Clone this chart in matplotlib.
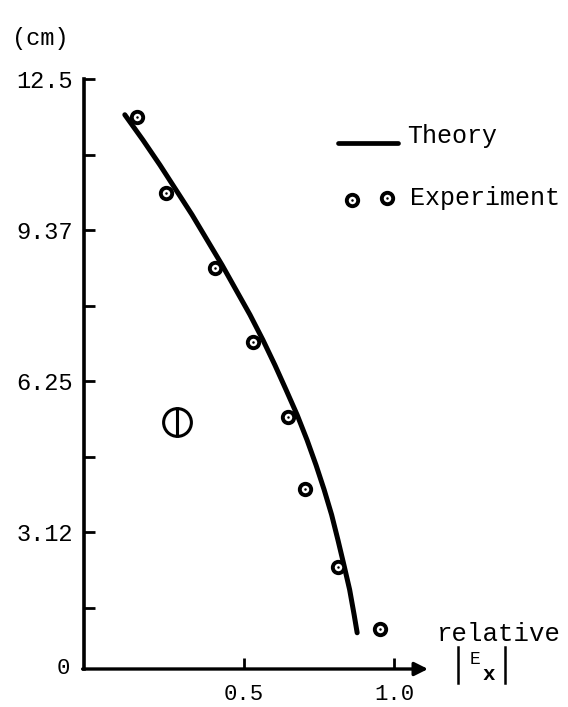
import matplotlib
matplotlib.use("Agg")
import matplotlib.pyplot as plt
from matplotlib.lines import Line2D

# ---- data ----
theory_x = [0.103, 0.163, 0.220, 0.273, 0.327, 0.377, 0.427, 0.473, 0.520, 0.563,
            0.603, 0.640, 0.677, 0.710, 0.740, 0.767, 0.792, 0.813, 0.833, 0.852,
            0.867, 0.877]
theory_y = [11.76, 11.24, 10.72, 10.21, 9.69, 9.17, 8.65, 8.14, 7.62, 7.10,
            6.58, 6.07, 5.55, 5.03, 4.51, 4.00, 3.48, 2.96, 2.44, 1.93,
            1.41, 1.04]
exp_x = [0.143, 0.240, 0.403, 0.530, 0.647, 0.703, 0.813, 0.953]
exp_y = [11.72, 10.14, 8.59, 7.06, 5.51, 4.02, 2.40, 1.12]
ytick_vals = [3.125, 6.25, 9.375, 12.5]
ytick_labels = ["3.12", "6.25", "9.37", "12.5"]
yminor_vals = [1.5625, 4.6875, 7.8125, 10.9375]
xtick_vals = [0.5, 1.0]
xtick_labels = ["0.5", "1.0"]
case_label_pos = (0.277, 5.40)

W, H = 568, 707
FONT = "Liberation Mono"

def fx(px):
    return px / W

def fy(py):
    return 1 - py / H

fig = plt.figure(figsize=(W / 100, H / 100), dpi=100)
ax = fig.add_axes([fx(84), fy(669), (428 - 84) / W, (669 - 79) / H])
ax.set_xlim(-0.033, 1.113)
ax.set_ylim(0.29, 12.5)

for s in ["top", "right", "bottom"]:
    ax.spines[s].set_visible(False)
ax.spines["left"].set_linewidth(2.6)

# x axis with arrow
ax.annotate("", xy=(1.0, 0), xytext=(-0.004, 0), xycoords="axes fraction",
            textcoords="axes fraction",
            arrowprops=dict(arrowstyle="-|>", lw=2.4, color="black",
                            mutation_scale=20, shrinkA=0, shrinkB=0))

ax.set_yticks(ytick_vals)
ax.set_yticklabels(ytick_labels, fontfamily=FONT, fontsize=17)
ax.set_yticks(yminor_vals, minor=True)
ax.tick_params(axis="y", which="both", direction="in", length=8, width=2.0, pad=8)
ax.set_xticks(xtick_vals)
ax.set_xticklabels(xtick_labels, fontfamily=FONT, fontsize=16)
ax.tick_params(axis="x", which="both", direction="in", length=8, width=2.0, pad=11)

# theory curve
ax.plot(theory_x, theory_y, color="black", lw=3.6, solid_capstyle="round",
        solid_joinstyle="round", clip_on=False)
# experiment points
ax.plot(exp_x, exp_y, linestyle="none", marker="o", ms=8.2, mew=2.8,
        mfc="white", mec="black", clip_on=False, zorder=5)
ax.plot(exp_x, exp_y, linestyle="none", marker="o", ms=1.8, mew=0,
        mfc="black", clip_on=False, zorder=6)

# case label (circled 1)
ax.plot([case_label_pos[0]], [case_label_pos[1]], marker="o", ms=20, mew=2.2,
        mfc="none", mec="black", linestyle="none")
ax.plot([case_label_pos[0]], [case_label_pos[1]], marker="|", ms=22, mew=2.2,
        color="black", linestyle="none")

# axis texts
fig.text(fx(40), fy(38), "(cm)", fontfamily=FONT, fontsize=17, ha="center", va="center")
fig.text(fx(63), fy(668), "0", fontfamily=FONT, fontsize=16, ha="center", va="center")
fig.text(fx(437), fy(634), "relative", fontfamily=FONT, fontsize=18.5, ha="left", va="center")
fig.text(fx(475), fy(660), "E", fontfamily=FONT, fontsize=13, ha="center", va="center")
fig.text(fx(489), fy(674), "x", fontfamily=FONT, fontsize=15, fontweight="bold",
         ha="center", va="center")
for bx in (458, 505):
    fig.add_artist(Line2D([fx(bx), fx(bx)], [fy(647), fy(683)], color="black", lw=1.8))

# legend (manual)
fig.add_artist(Line2D([fx(338), fx(398)], [fy(143), fy(143)], color="black", lw=3.4,
                      solid_capstyle="round"))
fig.text(fx(407), fy(136), "Theory", fontfamily=FONT, fontsize=18, ha="left", va="center")
fig.add_artist(Line2D([fx(352), fx(387)], [fy(200), fy(198)], linestyle="none",
                      marker="o", ms=8.2, mew=2.8, mfc="white", mec="black"))
fig.add_artist(Line2D([fx(352), fx(387)], [fy(200), fy(198)], linestyle="none",
                      marker="o", ms=1.8, mew=0, mfc="black"))
fig.text(fx(410), fy(198), "Experiment", fontfamily=FONT, fontsize=18, ha="left", va="center")

fig.savefig("out.png", dpi=100, facecolor="white")
